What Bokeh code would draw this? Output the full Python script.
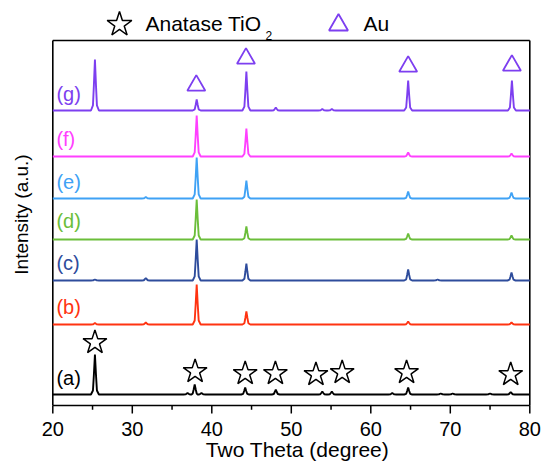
import numpy as np
from bokeh.plotting import figure
from bokeh.models import Range1d, ColumnDataSource
from bokeh.core.properties import value
from bokeh.embed import file_html
from bokeh.resources import INLINE

FONT = "Liberation Sans"

# ---------------- data ----------------
x_start, x_end = 20, 80
x_ticks = [20, 30, 40, 50, 60, 70, 80]
x_minor_ticks = [25, 35, 45, 55, 65, 75]
x_tick_labels = ["20", "30", "40", "50", "60", "70", "80"]

sample_labels = ["(a)", "(b)", "(c)", "(d)", "(e)", "(f)", "(g)"]
sample_colors = ["#000000", "#FF3311", "#2E4C9C", "#6BBE3A", "#3FA2F5", "#FF40FF", "#7D3FF0"]
baseline_offsets = [11, 81, 125, 166, 207, 249, 295]
label_y = [28, 99, 143, 185, 224, 267, 312]

peaks_a_pos = [25.3, 36.95, 37.85, 38.7, 44.2, 48.05, 53.9, 55.1, 62.7, 64.7, 68.8, 70.3, 75.0, 77.6]
peaks_a_int = [40, 1.5, 10, 1.5, 7, 5, 3, 3, 1.5, 7, 1, 1, 1, 2.5]
peaks_b_pos = [25.3, 31.7, 38.1, 44.35, 64.7, 77.7]
peaks_b_int = [1.5, 2, 40, 13, 3, 2]
peaks_c_pos = [25.3, 31.7, 38.1, 44.35, 64.7, 68.4, 77.7]
peaks_c_int = [1, 2.5, 41, 17, 11, 1, 8]
peaks_d_pos = [38.1, 44.35, 64.7, 77.7]
peaks_d_int = [40, 13, 6, 4]
peaks_e_pos = [31.7, 38.1, 44.35, 64.7, 77.7]
peaks_e_int = [1.5, 41, 18, 7, 6]
peaks_f_pos = [38.1, 44.35, 64.7, 77.7]
peaks_f_int = [41, 28, 4, 3]
peaks_g_pos = [25.3, 38.1, 44.35, 48.05, 53.9, 55.1, 64.7, 77.75]
peaks_g_int = [51, 11, 39, 3, 1.5, 1.5, 30, 30]

peak_positions = [peaks_a_pos, peaks_b_pos, peaks_c_pos, peaks_d_pos, peaks_e_pos, peaks_f_pos, peaks_g_pos]
peak_intensities = [peaks_a_int, peaks_b_int, peaks_c_int, peaks_d_int, peaks_e_int, peaks_f_int, peaks_g_int]

star_x = [25.3, 37.9, 44.2, 48.0, 53.1, 56.4, 64.5, 77.6]
star_y = [63, 34, 32, 32, 31, 33, 33, 31]
tri_x = [38.05, 44.3, 64.7, 77.75]
tri_y = [320, 347, 339, 340]

# ---------------- layout / style constants ----------------
W, H = 542, 461
px_per_deg = 7.95
left_px = 52.3              # page x of 2-theta = 20
box_top = 365               # top of framed box (1 intensity unit = 1 px)
y_top = 405                 # data value at the top of the page
y_bottom = y_top - H        # data value at the bottom of the page
prof_dx = [-0.5, -0.25, -0.13, 0.0, 0.13, 0.25, 0.5]
prof_fr = [0.0, 0.1, 0.5, 1.0, 0.5, 0.1, 0.0]


def px_to_deg(px):
    return x_start + (px - left_px) / px_per_deg


def page_y(py):
    return y_top - py


def build_trace(pos, inten, off):
    xs = [x_start]
    ys = [off]
    for c, h in zip(pos, inten):
        for dx, fr in zip(prof_dx, prof_fr):
            xs.append(c + dx)
            ys.append(off + h * fr)
    xs.append(x_end)
    ys.append(off)
    xs = np.array(xs)
    ys = np.array(ys)
    order = np.argsort(xs, kind="stable")
    return xs[order], ys[order]


p = figure(width=W, height=H,
           x_range=Range1d(px_to_deg(0), px_to_deg(W)), y_range=Range1d(y_bottom, y_top),
           output_backend="svg", toolbar_location=None,
           x_axis_location=None, y_axis_location=None, min_border=0)
p.grid.visible = False
p.outline_line_color = None

# box (frame) lines
p.line([x_start, x_end], [box_top, box_top], line_color="black", line_width=1.6)
p.line([x_start, x_start], [0, box_top], line_color="black", line_width=1.6)
p.line([x_end, x_end], [0, box_top], line_color="black", line_width=1.6)
p.line([x_start, x_end], [0, 0], line_color="black", line_width=1.6)

# x axis ticks and labels (outward)
p.segment(x0=x_ticks, y0=[0] * len(x_ticks), x1=x_ticks, y1=[-8] * len(x_ticks),
          line_color="black", line_width=1.5)
p.segment(x0=x_minor_ticks, y0=[0] * len(x_minor_ticks), x1=x_minor_ticks,
          y1=[-4.3] * len(x_minor_ticks), line_color="black", line_width=1.5)
p.text(x=x_ticks, y=[page_y(428.8)] * len(x_ticks), text=x_tick_labels, text_font=value(FONT),
       text_font_size="20px", text_color="black", text_align="center", text_baseline="middle")
p.text(x=[px_to_deg(297)], y=[page_y(449.3)], text=["Two Theta (degree)"], text_font=value(FONT),
       text_font_size="21px", text_color="black", text_align="center", text_baseline="middle")
p.text(x=[px_to_deg(21)], y=[page_y(214)], text=["Intensity (a.u.)"], angle=np.pi / 2,
       text_font=value(FONT), text_font_size="19px", text_color="black",
       text_align="center", text_baseline="middle")

# traces
for pos, inten, off, col in zip(peak_positions, peak_intensities, baseline_offsets, sample_colors):
    xs, ys = build_trace(pos, inten, off)
    p.line(xs, ys, line_color=col, line_width=1.9)

lab_src = ColumnDataSource(dict(x=[20.45] * len(sample_labels), y=label_y,
                                text=sample_labels, color=sample_colors))
p.text(x="x", y="y", text="text", text_color="color", source=lab_src,
       text_font=value(FONT), text_font_size="20px", text_baseline="middle", text_align="left")

p.scatter(x=star_x, y=star_y, marker="star", size=25, fill_color=None,
          line_color="black", line_width=1.5)
p.scatter(x=tri_x, y=tri_y, marker="triangle", size=18, fill_color=None,
          line_color="#7D3FF0", line_width=1.8)

# legend above the box
p.scatter(x=[px_to_deg(119)], y=[page_y(24)], marker="star", size=26, fill_color=None,
          line_color="black", line_width=1.5)
p.scatter(x=[px_to_deg(338)], y=[page_y(24.5)], marker="triangle", size=19, fill_color=None,
          line_color="#7D3FF0", line_width=1.8)
p.text(x=[px_to_deg(145)], y=[page_y(22.7)], text=["Anatase TiO"], text_font=value(FONT),
       text_font_size="21px", text_color="black", text_baseline="middle", text_align="left")
p.text(x=[px_to_deg(265)], y=[page_y(34.5)], text=["2"], text_font=value(FONT), text_font_size="12px",
       text_color="black", text_baseline="middle", text_align="left")
p.text(x=[px_to_deg(363)], y=[page_y(22.7)], text=["Au"], text_font=value(FONT), text_font_size="21px",
       text_color="black", text_baseline="middle", text_align="left")

open("out.html", "w").write(file_html(p, INLINE))
